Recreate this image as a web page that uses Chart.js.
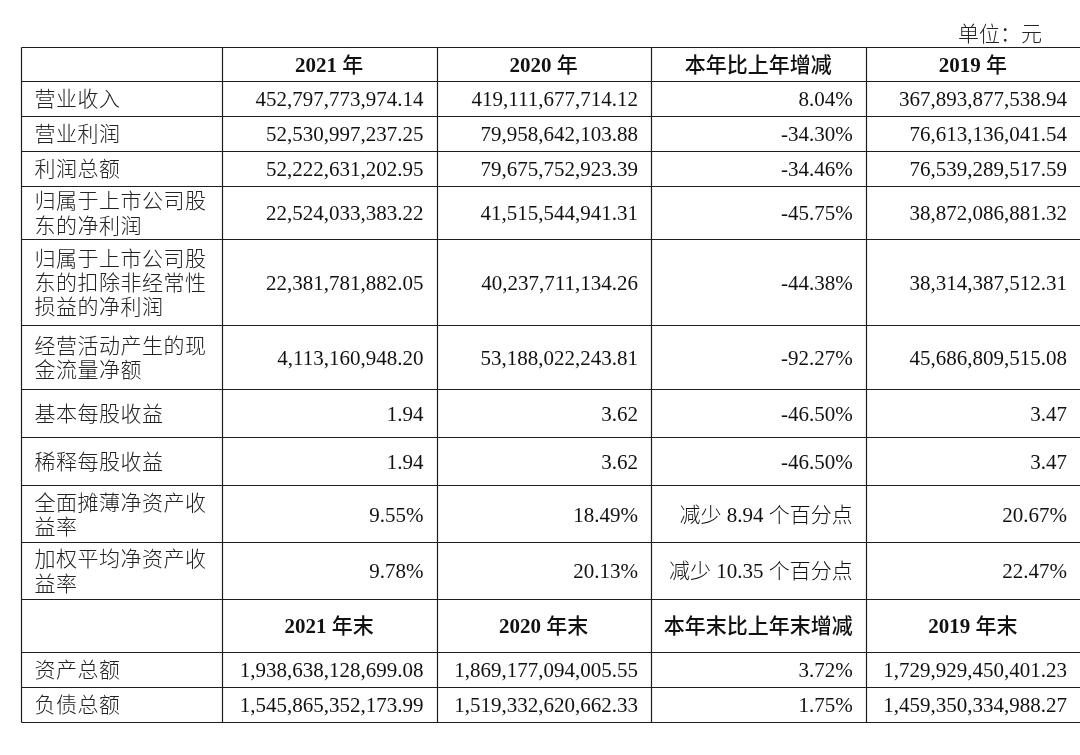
<!DOCTYPE html>
<html>
<head>
<meta charset="utf-8">
<script src="https://cdn.jsdelivr.net/npm/chart.js@4"></script>
<style>
  html, body { margin: 0; padding: 0; background: #fff; }
  canvas { display: block; }
</style>
</head>
<body>
<canvas id="miTabla" width="1080" height="755"></canvas>
<script>
const unidad = "单位：元";

const encabezado = ["2021 年", "2020 年", "本年比上年增减", "2019 年"];
const encabezadoFin = ["2021 年末", "2020 年末", "本年末比上年末增减", "2019 年末"];

const conceptos = [
  "营业收入",
  "营业利润",
  "利润总额",
  "归属于上市公司股东的净利润",
  "归属于上市公司股东的扣除非经常性损益的净利润",
  "经营活动产生的现金流量净额",
  "基本每股收益",
  "稀释每股收益",
  "全面摊薄净资产收益率",
  "加权平均净资产收益率",
];
const valores2021 = [
  "452,797,773,974.14",
  "52,530,997,237.25",
  "52,222,631,202.95",
  "22,524,033,383.22",
  "22,381,781,882.05",
  "4,113,160,948.20",
  "1.94",
  "1.94",
  "9.55%",
  "9.78%",
];
const valores2020 = [
  "419,111,677,714.12",
  "79,958,642,103.88",
  "79,675,752,923.39",
  "41,515,544,941.31",
  "40,237,711,134.26",
  "53,188,022,243.81",
  "3.62",
  "3.62",
  "18.49%",
  "20.13%",
];
const variacion = [
  "8.04%",
  "-34.30%",
  "-34.46%",
  "-45.75%",
  "-44.38%",
  "-92.27%",
  "-46.50%",
  "-46.50%",
  "减少 8.94 个百分点",
  "减少 10.35 个百分点",
];
const valores2019 = [
  "367,893,877,538.94",
  "76,613,136,041.54",
  "76,539,289,517.59",
  "38,872,086,881.32",
  "38,314,387,512.31",
  "45,686,809,515.08",
  "3.47",
  "3.47",
  "20.67%",
  "22.47%",
];

const conceptosFin = ["资产总额", "负债总额"];
const fin2021 = ["1,938,638,128,699.08", "1,545,865,352,173.99"];
const fin2020 = ["1,869,177,094,005.55", "1,519,332,620,662.33"];
const variacionFin = ["3.72%", "1.75%"];
const fin2019 = ["1,729,929,450,401.23", "1,459,350,334,988.27"];

// layout (widths / heights in scale units)
const anchoCol = [201, 215, 214.3, 214.7, 214.3];
const altoFila = [33.5, 35.2, 35, 35, 53.3, 86, 64.3, 48, 48, 56.7, 56.3, 53.4, 35, 35];

const acumular = (arr) => arr.reduce((acc, v) => acc.concat(acc[acc.length - 1] + v), [0]);
const bordesCol = acumular(anchoCol);
const bordesFila = acumular(altoFila);
const anchoTotal = bordesCol[bordesCol.length - 1];
const altoTotal = bordesFila[bordesFila.length - 1];

// table rows built from the arrays
const filas = [];
filas.push({ head: true, celdas: [""].concat(encabezado) });
conceptos.forEach((c, i) =>
  filas.push({ head: false, celdas: [c, valores2021[i], valores2020[i], variacion[i], valores2019[i]] })
);
filas.push({ head: true, celdas: [""].concat(encabezadoFin) });
conceptosFin.forEach((c, i) =>
  filas.push({ head: false, celdas: [c, fin2021[i], fin2020[i], variacionFin[i], fin2019[i]] })
);

const datasets = anchoCol.map((_, c) => ({
  label: "col" + c,
  data: filas.map((f, r) => ({
    x: f.head ? (bordesCol[c] + bordesCol[c + 1]) / 2 : c === 0 ? bordesCol[0] : bordesCol[c + 1],
    y: (bordesFila[r] + bordesFila[r + 1]) / 2,
  })),
  textos: filas.map((f) => f.celdas[c]),
  alineacion: filas.map((f) => (f.head ? "center" : c === 0 ? "left" : "right")),
  cabecera: filas.map((f) => f.head),
  pointRadius: 0,
  showLine: false,
}));

const esCJK = /[\u3000-\u9fff\uff00-\uffef]/;

function dibujarMixto(ctx, texto, x, y, align, head, espaciado) {
  const partes = (texto.match(/[\u3000-\u9fff\uff00-\uffef]+|[^\u3000-\u9fff\uff00-\uffef]+/g) || []).map((r) => {
    const cjk = esCJK.test(r);
    const font = cjk
      ? (head ? "500" : "300") + ' 21px "Noto Sans CJK SC"'
      : (head ? "bold " : "") + '21px "Liberation Serif"';
    ctx.font = font;
    ctx.letterSpacing = cjk && espaciado ? espaciado : "0px";
    return { r, font, cjk, w: ctx.measureText(r).width };
  });
  const total = partes.reduce((s, p) => s + p.w, 0);
  let xx = align === "left" ? x : align === "right" ? x - total : x - total / 2;
  partes.forEach((p) => {
    ctx.font = p.font;
    ctx.letterSpacing = p.cjk && espaciado ? espaciado : "0px";
    ctx.textAlign = "left";
    ctx.textBaseline = "alphabetic";
    ctx.fillText(p.r, xx, y);
    xx += p.w;
  });
  ctx.letterSpacing = "0px";
}

const pluginTabla = {
  id: "tabla",
  beforeDatasetsDraw(chart) {
    const { ctx } = chart;
    const { x, y } = chart.scales;
    const px = (v) => Math.round(v) + 0.5;
    const izq = px(x.getPixelForValue(0));
    const der = x.getPixelForValue(anchoTotal) + 2;
    const arr = px(y.getPixelForValue(0));
    const abj = px(y.getPixelForValue(altoTotal));
    ctx.save();
    ctx.strokeStyle = "#1e1e1e";
    ctx.lineWidth = 1.2;
    ctx.beginPath();
    bordesFila.forEach((v) => {
      const yy = px(y.getPixelForValue(v));
      ctx.moveTo(izq, yy);
      ctx.lineTo(der, yy);
    });
    // right border falls outside the picture
    bordesCol.slice(0, -1).forEach((v) => {
      const xx = px(x.getPixelForValue(v));
      ctx.moveTo(xx, arr);
      ctx.lineTo(xx, abj);
    });
    ctx.stroke();

    ctx.fillStyle = "#222";
    dibujarMixto(ctx, unidad, x.getPixelForValue(anchoTotal) - 38, y.getPixelForValue(0) - 6, "right", false);
    ctx.restore();
  },
  afterDatasetsDraw(chart) {
    const { ctx } = chart;
    ctx.save();
    chart.data.datasets.forEach((ds, i) => {
      const meta = chart.getDatasetMeta(i);
      meta.data.forEach((pt, j) => {
        const texto = ds.textos[j];
        if (!texto) return;
        const align = ds.alineacion[j];
        const head = ds.cabecera[j];
        ctx.fillStyle = i === 0 ? "#222" : "#111";
        if (align === "left") {
          // labels wrap every 8 characters
          const lineas = texto.match(/.{1,8}/g);
          lineas.forEach((l, k) => {
            const cy = pt.y + (k - (lineas.length - 1) / 2) * 24.3;
            dibujarMixto(ctx, l, pt.x + 14, cy + 8, "left", false, "0.5px");
          });
        } else if (align === "right") {
          dibujarMixto(ctx, texto, pt.x - 13, pt.y + 8, "right", head);
        } else {
          dibujarMixto(ctx, texto, pt.x, pt.y + 8, "center", head);
        }
      });
    });
    ctx.restore();
  },
};

const ctx = document.getElementById("miTabla").getContext("2d");

const miTabla = new Chart(ctx, {
  type: "scatter",
  data: { datasets: datasets },
  options: {
    responsive: false,
    animation: false,
    events: [],
    layout: {
      padding: { left: 20.5, top: 47, right: 0, bottom: 33 },
    },
    plugins: {
      legend: { display: false },
      tooltip: { enabled: false },
    },
    scales: {
      x: { type: "linear", min: 0, max: anchoTotal, display: false },
      y: { type: "linear", min: 0, max: altoTotal, reverse: true, display: false },
    },
  },
  plugins: [pluginTabla],
});
</script>
</body>
</html>
